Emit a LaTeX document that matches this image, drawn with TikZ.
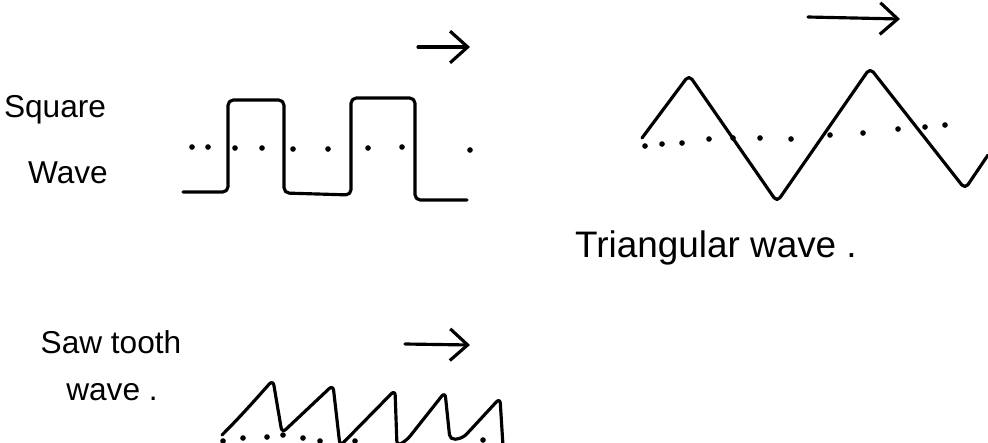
\documentclass[tikz,border=0pt]{standalone}
\usepackage{fontspec}
\setmainfont{Liberation Sans}
\usetikzlibrary{arrows.meta}
\tikzset{
  ink/.style={line width=1.8pt, line cap=round, line join=round, black},
  wave/.style={ink, rounded corners=3pt},
  dirarrow/.style={ink, -{Straight Barb[length=10pt,width=18pt,line width=1.8pt]}},
  label/.style={anchor=base, inner sep=0pt, font=\fontsize{18}{22}\selectfont},
  dot/.style={fill=black, circle, inner sep=0pt, minimum size=3.2pt}
}
\begin{document}
\begin{tikzpicture}[x=0.02cm, y=-0.02cm]
\useasboundingbox (0,0) rectangle (988,443);
% labels
\node[label] (sq1) at (55,117) {Square};
\node[label] (sq2) at (68,183) {Wave};
\node[label, font=\fontsize{21}{25}\selectfont] (tri) at (716,257) {Triangular wave .};
\node[label] (saw1) at (111,353) {Saw tooth};
\node[label] (saw2) at (112,400) {wave .};
% square wave
\draw[wave] (183,192) -- (228,192) -- (228,100) -- (284,100) -- (284,193)
  -- (351,195) -- (351,98) -- (415,98) -- (415,200) -- (467,200);
\foreach \x/\y in {192/147,208/147,235/148,262/148,293/149,328/149,368/148,402/147,470/150}
  \node[dot] at (\x,\y) {};
\coordinate (sqa) at (418,47);
\coordinate (sqb) at (470,47);
\draw[dirarrow] (sqa) -- (sqb);
% triangular wave
\draw[wave] (642,138) -- (689,75) -- (777,202) -- (870,68) -- (965,189) -- (988,155);
\foreach \x/\y in {645/146,662/144,682/143,709/139,733/138,760/138,791/139,830/135,863/133,898/129,925/127,945/125}
  \node[dot] at (\x,\y) {};
\coordinate (tra) at (808,17);
\coordinate (trb) at (900,19);
\draw[dirarrow] (tra) -- (trb);
% sawtooth wave
\draw[wave] (222,435) .. controls (245,412) and (262,392) .. (273,380) -- (282,433)
  -- (333,385) -- (340,446)
  -- (395,390) -- (397,446)
  -- (407,440) -- (445,392) -- (450,440)
  -- (463,438) -- (500,398) -- (503,446);
\foreach \x/\y in {223/441,243/438,267/437,283/435,303/438,320/441,355/441,483/440}
  \node[dot] at (\x,\y) {};
\coordinate (swa) at (405,344);
\coordinate (swb) at (470,345);
\draw[dirarrow] (swa) -- (swb);
\end{tikzpicture}
\end{document}
